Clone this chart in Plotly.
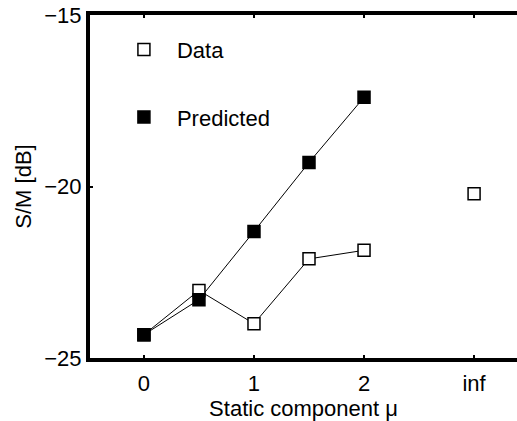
import plotly.graph_objects as go

# Data
mu = [0, 0.5, 1, 1.5, 2]
data_vals = [-24.32, -23.03, -24.0, -22.11, -21.86]
pred_vals = [-24.32, -23.30, -21.31, -19.30, -17.40]
inf_pos = 3
inf_data = -20.21
xtick_vals = [0, 1, 2, 3]
xtick_text = ["0", "1", "2", "inf"]
ytick_vals = [-25, -20, -15]
ytick_text = ["\u221225", "\u221220", "\u221215"]

fig = go.Figure()

# lines
fig.add_trace(go.Scatter(x=mu, y=data_vals, mode="lines",
                         line=dict(color="black", width=1), showlegend=False, hoverinfo="skip"))
fig.add_trace(go.Scatter(x=mu, y=pred_vals, mode="lines",
                         line=dict(color="black", width=1), showlegend=False, hoverinfo="skip"))
# markers
fig.add_trace(go.Scatter(x=mu + [inf_pos], y=data_vals + [inf_data], mode="markers", name="Data",
                         legendgroup="a",
                         marker=dict(symbol="square", size=12, color="white",
                                     line=dict(color="black", width=1.5))))
fig.add_trace(go.Scatter(x=mu, y=pred_vals, mode="markers", name="Predicted",
                         legendgroup="b",
                         marker=dict(symbol="square", size=12, color="black",
                                     line=dict(color="black", width=1.5))))

font = dict(family="Liberation Sans, Arial, sans-serif", size=22, color="black")

fig.update_layout(
    width=517, height=421,
    margin=dict(l=90, r=0, t=15, b=62.5),
    paper_bgcolor="white", plot_bgcolor="white",
    font=font,
    showlegend=True,
    legend=dict(x=0.049, y=0.96, xanchor="left", yanchor="top", itemwidth=56,
                bgcolor="rgba(0,0,0,0)", tracegroupgap=36, font=font),
    xaxis=dict(range=[-0.49, 3.39], tickvals=xtick_vals, ticktext=xtick_text,
               showline=True, linewidth=4, linecolor="black", mirror="ticks",
               ticks="inside", ticklen=3, tickwidth=2, tickcolor="black",
               showgrid=False, zeroline=False, ticklabelstandoff=3,
               title=dict(text="Static component \u03bc", font=font, standoff=3)),
    yaxis=dict(range=[-25, -15], tickvals=ytick_vals, ticktext=ytick_text,
               showline=True, linewidth=4, linecolor="black", mirror=False,
               ticks="inside", ticklen=3, tickwidth=2, tickcolor="black",
               showgrid=False, zeroline=False,
               title=dict(text="S/M [dB]", font=font, standoff=8)),
)

fig.write_html("out.html")
